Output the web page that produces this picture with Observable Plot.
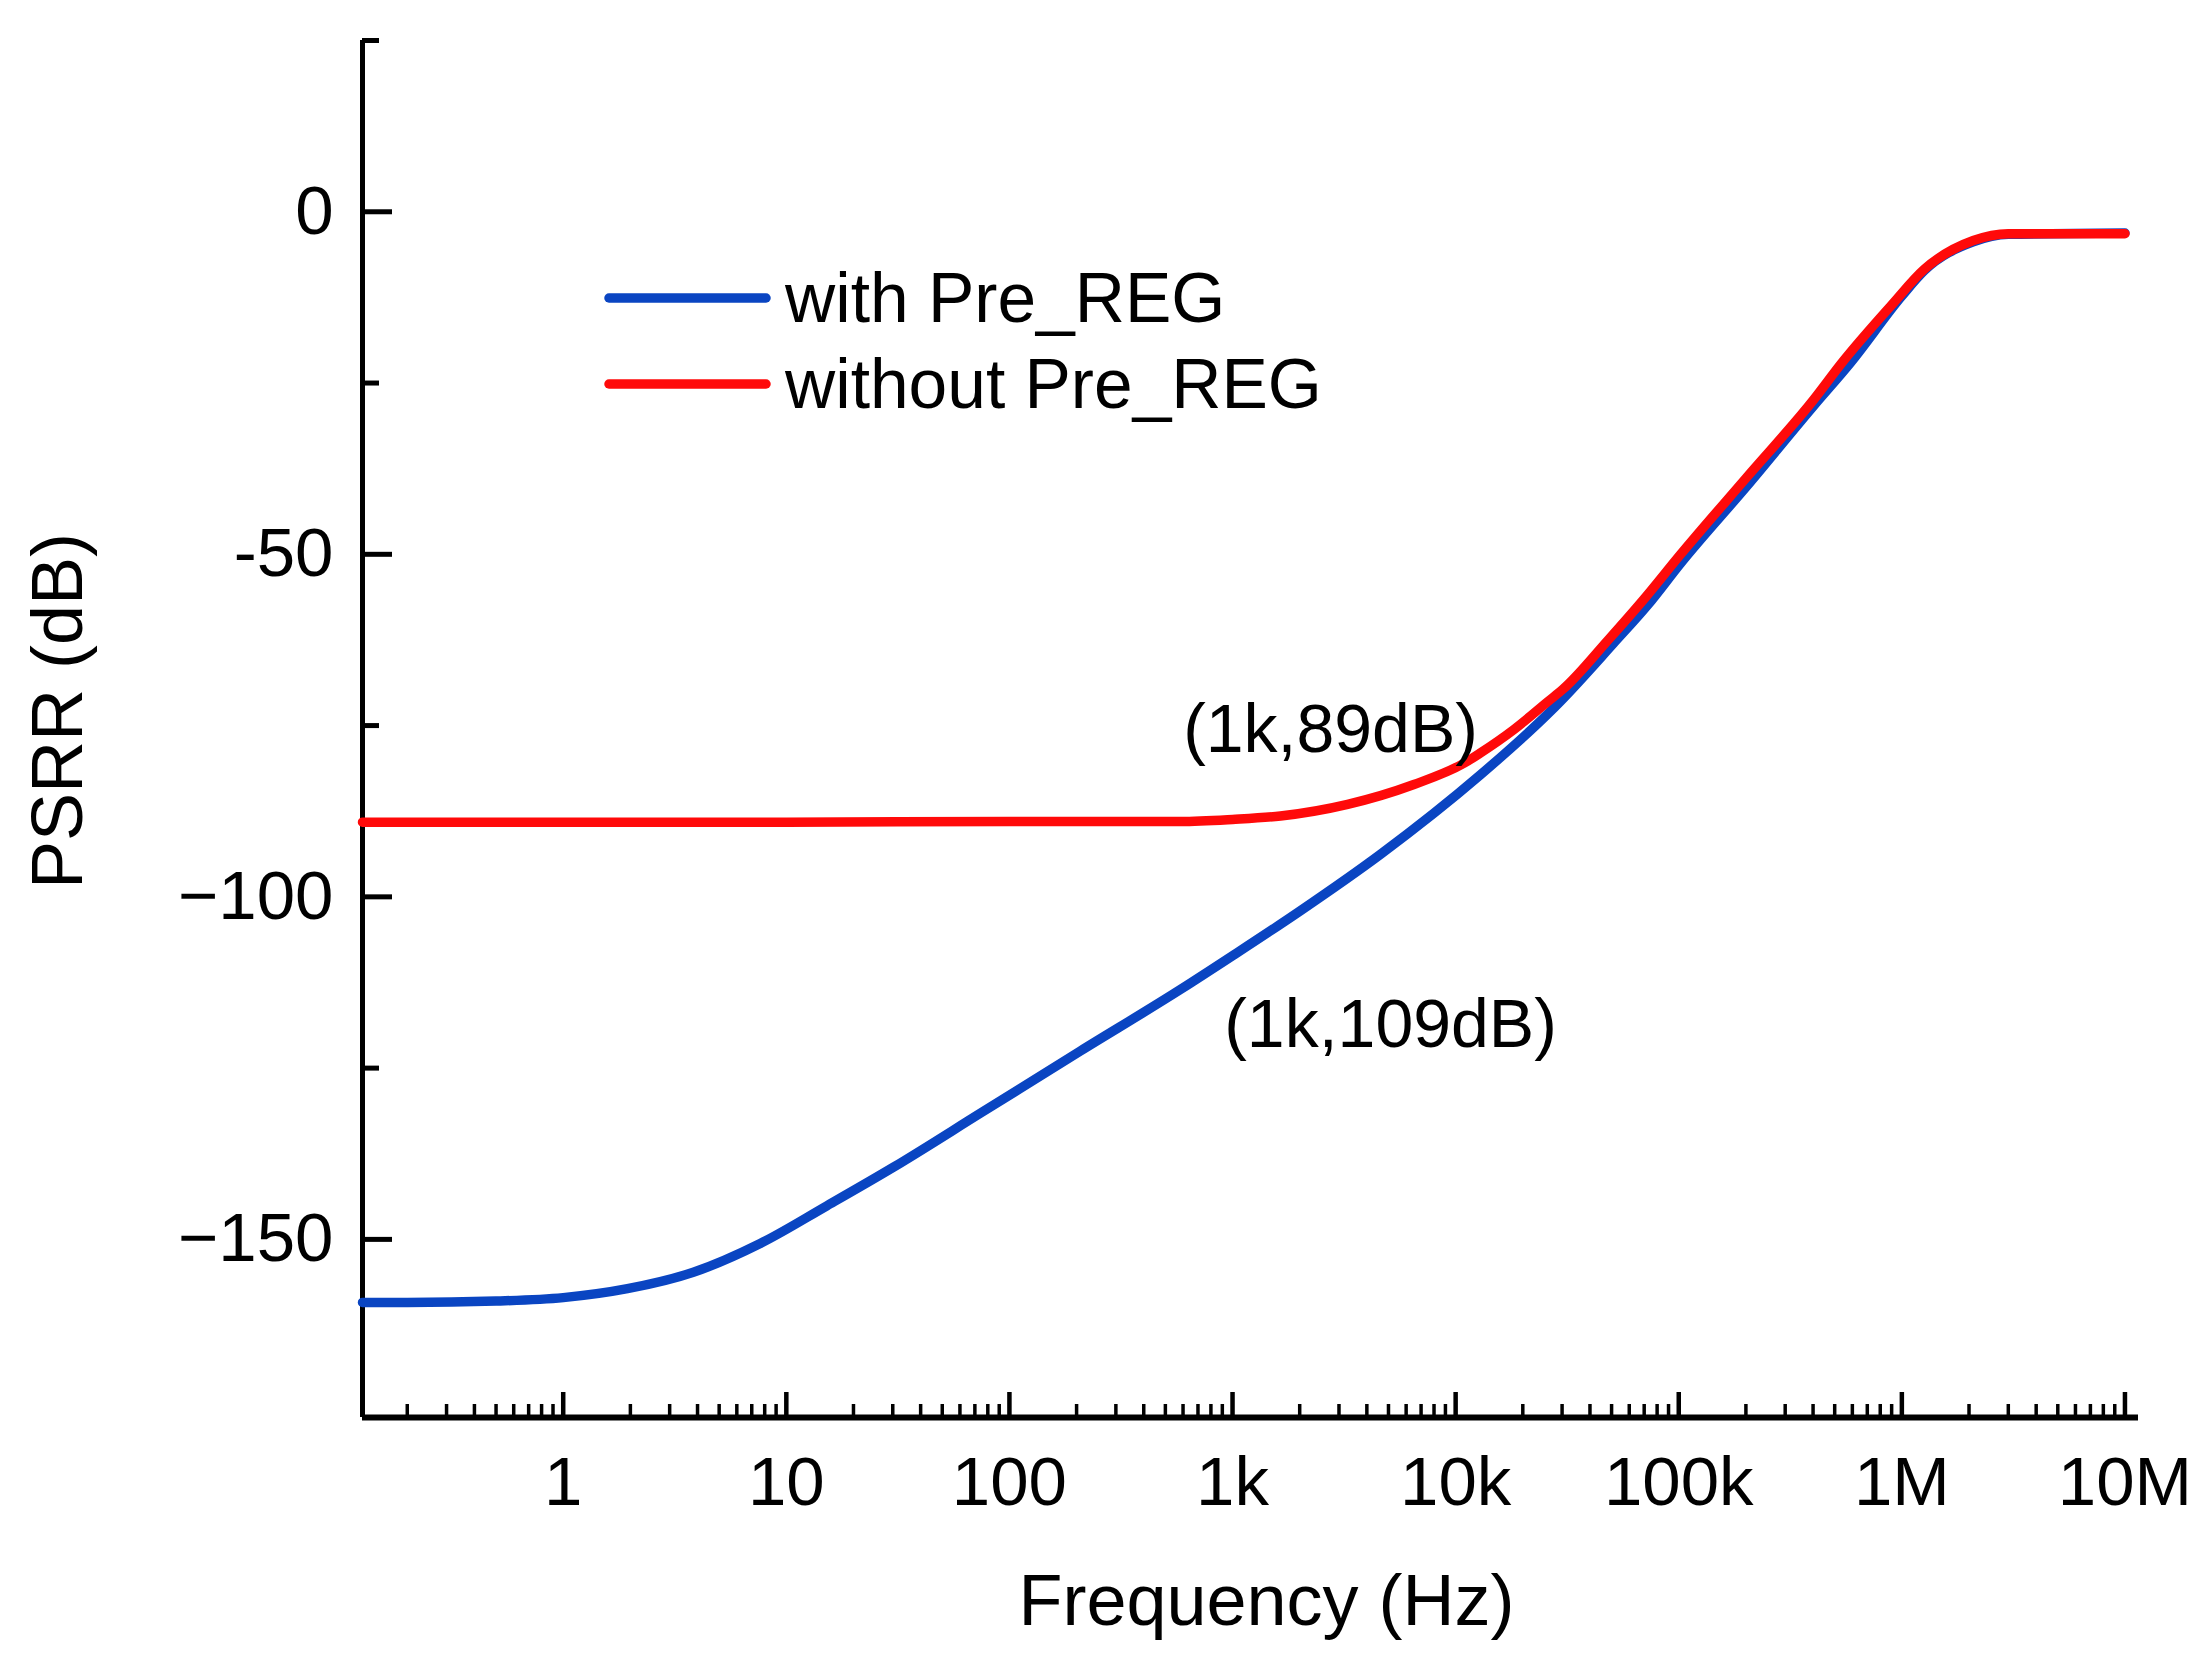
<!DOCTYPE html>
<html>
<head>
<meta charset="utf-8">
<script src="https://cdn.jsdelivr.net/npm/d3@7"></script>
<script src="https://cdn.jsdelivr.net/npm/@observablehq/plot@0.6"></script>
<style>
  html, body { margin: 0; padding: 0; background: #fff; }
  #chart svg { display: block; }
</style>
</head>
<body>
<div id="chart"></div>
<script>
// ---- data ----
const freqWith = [0.126, 0.2, 0.5, 1, 1.94, 3.83, 7.64, 15.2, 30.1, 74, 208, 586, 1000, 2000, 4600, 12900, 25900, 29400, 51000, 72600, 102000, 200000, 403000, 590000, 1000000, 1260000, 2090000, 3000000, 10000000];
const dbWith   = [-159.2, -159.2, -159.0, -158.5, -157.2, -154.8, -150.6, -145.1, -139.5, -131.6, -122.5, -113.5, -108.6, -102.1, -93.8, -82.2, -73.3, -71.5, -63.0, -57.4, -51.3, -40.2, -28.3, -22.0, -12.3, -8.6, -4.4, -3.3, -3.1];

const freqWithout = [0.126, 1, 10, 100, 585, 1000, 1640, 3280, 6500, 10900, 12900, 18200, 25900, 30500, 48000, 70000, 102000, 200000, 403000, 540000, 895000, 1260000, 2090000, 3000000, 10000000];
const dbWithout   = [-89.1, -89.1, -89.1, -89.0, -89.0, -88.7, -88.2, -86.5, -83.6, -80.5, -79.0, -75.6, -71.5, -69.6, -62.6, -56.5, -50.0, -38.9, -27.4, -22.0, -13.7, -8.4, -4.2, -3.2, -3.2];

const seriesNames  = ["with Pre_REG", "without Pre_REG"];
const seriesColors = ["#0A45C2", "#FF0A0A"];

const xDomain = [0.126, 1.15e7];
const yDomain = [-176, 25];

const xMajorTicks  = [1, 10, 100, 1e3, 1e4, 1e5, 1e6, 1e7];
const xTickLabels  = ["1", "10", "100", "1k", "10k", "100k", "1M", "10M"];
const xMinorTicks  = [];
[0.1, 1, 10, 100, 1e3, 1e4, 1e5, 1e6].forEach(dec => {
  [2, 3, 4, 5, 6, 7, 8, 9].forEach(m => xMinorTicks.push(+(dec * m).toPrecision(3)));
});

const yMajorTicks = [0, -50, -100, -150];
const yTickLabels = ["0", "-50", "\u2212100", "\u2212150"];
const yMinorTicks = [25, -25, -75, -125];

const annotations = [
  {f: 1000, db: -89, label: "(1k,89dB)"},
  {f: 1000, db: -109, label: "(1k,109dB)"}
];

const xTitle = "Frequency (Hz)";
const yTitle = "PSRR (dB)";

// ---- build tables ----
const rowsWith = freqWith.map((f, i) => ({f, db: dbWith[i]}));
const rowsWithout = freqWithout.map((f, i) => ({f, db: dbWithout[i]}));
const xLabelMap = new Map(xMajorTicks.map((t, i) => [t, xTickLabels[i]]));
const yLabelMap = new Map(yMajorTicks.map((t, i) => [t, yTickLabels[i]]));

const W = 2211, H = 1673;
const mL = 362, mR = 73, mT = 40, mB = 256;
const frameW = W - mL - mR, frameH = H - mT - mB;
const FONT = "'Liberation Sans', Arial, Helvetica, sans-serif";

const plot = Plot.plot({
  width: W,
  height: H,
  marginLeft: mL, marginRight: mR, marginTop: mT, marginBottom: mB,
  x: {type: "log", domain: xDomain},
  y: {domain: yDomain},
  style: {fontFamily: FONT, background: "#fff", color: "#000", overflow: "visible"},
  marks: [
    // axis lines
    Plot.ruleX([xDomain[0]], {stroke: "#000", strokeWidth: 5}),
    Plot.ruleY([yDomain[0]], {stroke: "#000", strokeWidth: 6}),
    // y ticks (inward)
    Plot.tickY(yMajorTicks, {y: d => d, insetRight: frameW - 30, stroke: "#000", strokeWidth: 5}),
    Plot.tickY(yMinorTicks, {y: d => d, insetRight: frameW - 17, stroke: "#000", strokeWidth: 5}),
    // x ticks (inward)
    Plot.tickX(xMajorTicks, {x: d => d, insetTop: frameH - 25, stroke: "#000", strokeWidth: 4.5}),
    Plot.tickX(xMinorTicks, {x: d => d, insetTop: frameH - 13, stroke: "#000", strokeWidth: 3.5}),
    // tick labels
    Plot.axisY({ticks: yMajorTicks, tickSize: 0, tickPadding: 29, tickFormat: d => yLabelMap.get(d), label: null, fontSize: 69}),
    Plot.axisX({ticks: xMajorTicks, tickSize: 0, tickPadding: 38, tickFormat: d => xLabelMap.get(d), label: null, fontSize: 69}),
    // curves
    Plot.line(rowsWith, {x: "f", y: "db", stroke: seriesColors[0], strokeWidth: 9.5, curve: "monotone-x"}),
    Plot.line(rowsWithout, {x: "f", y: "db", stroke: seriesColors[1], strokeWidth: 9.5, curve: "monotone-x"}),
    // annotations
    Plot.text([annotations[0]], {x: "f", y: "db", text: "label", dx: 98, dy: -91, fontSize: 68, fill: "#000"}),
    Plot.text([annotations[1]], {x: "f", y: "db", text: "label", dx: 158, dy: 67, fontSize: 68, fill: "#000"}),
    // axis titles
    Plot.text([yTitle], {text: d => d, frameAnchor: "left", textAnchor: "middle", lineAnchor: "middle", dx: -304, dy: -18, rotate: -90, fontSize: 72, fill: "#000"}),
    Plot.text([xTitle], {text: d => d, frameAnchor: "bottom", textAnchor: "middle", lineAnchor: "middle", dx: 16, dy: 184, fontSize: 72, fill: "#000"})
  ]
});

// legend
const svg = d3.select(plot);
const lg = svg.append("g").attr("font-family", FONT).attr("font-size", 69.5).attr("text-anchor", "start");
seriesNames.forEach((name, i) => {
  const y = 298 + i * 86;
  lg.append("line")
    .attr("x1", 609).attr("x2", 766).attr("y1", y).attr("y2", y)
    .attr("stroke", seriesColors[i]).attr("stroke-width", 9.5).attr("stroke-linecap", "round");
  lg.append("text")
    .attr("x", 785).attr("y", y).attr("dy", "0.35em").attr("fill", "#000").attr("text-anchor", "start")
    .text(name);
});

document.getElementById("chart").appendChild(plot);
</script>
</body>
</html>
